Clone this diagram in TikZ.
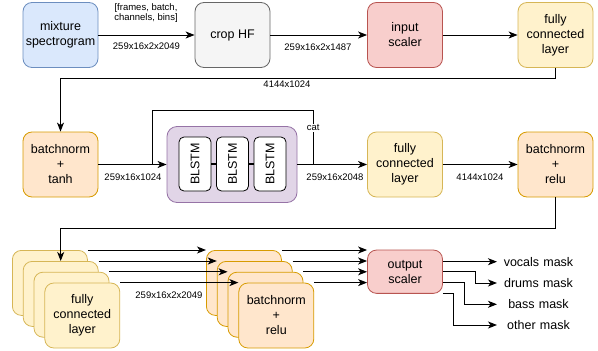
\documentclass[tikz,border=0pt]{standalone}
\usepackage{fontspec}
\setmainfont{Liberation Sans}
\usepackage{xcolor}
\usepackage{tikz}
\usetikzlibrary{arrows.meta,calc}

\definecolor{bluefill}{HTML}{DAE8FC}\definecolor{bluedraw}{HTML}{6C8EBF}
\definecolor{grayfill}{HTML}{F5F5F5}\definecolor{graydraw}{HTML}{666666}
\definecolor{redfill}{HTML}{F8CECC}\definecolor{reddraw}{HTML}{B85450}
\definecolor{yelfill}{HTML}{FFF2CC}\definecolor{yeldraw}{HTML}{D6B656}
\definecolor{orfill}{HTML}{FFE6CC}\definecolor{ordraw}{HTML}{D79B00}
\definecolor{purfill}{HTML}{E1D5E7}\definecolor{purdraw}{HTML}{9673A6}

\tikzset{
  block/.style={draw, rounded corners=9pt, line width=0.8pt, minimum width=75pt,
    minimum height=65pt, inner sep=0pt, align=center,
    font=\fontsize{12.5}{15}\selectfont},
  bluebox/.style={block, fill=bluefill, draw=bluedraw},
  graybox/.style={block, fill=grayfill, draw=graydraw},
  redbox/.style={block, fill=redfill, draw=reddraw},
  fcbox/.style={block, fill=yelfill, draw=yeldraw},
  bnbox/.style={block, fill=orfill, draw=ordraw},
  lstm/.style={draw, fill=white, rounded corners=5pt, line width=0.8pt,
    minimum width=32pt, minimum height=54pt, inner sep=0pt,
    font=\fontsize{12.5}{15}\selectfont},
  lbl/.style={font=\fontsize{9.5}{10.6}\selectfont, inner sep=1pt, align=center},
  mask/.style={font=\fontsize{12.5}{15}\selectfont, text width=80pt, align=center, inner sep=1pt},
}

\begin{document}
\begin{tikzpicture}[x=1pt,y=-1pt,line width=1pt,>={Stealth[length=9pt,width=7pt,inset=2.5pt]}]
  \useasboundingbox (0,0) rectangle (598,351);

  % first row
  \node[bluebox] (mix) at (60.5,35) {mixture\\spectrogram};
  \node[graybox] (crop) at (232.5,35) {crop HF};
  \node[redbox] (insc) at (405,35) {input\\scaler};
  \node[fcbox] (fc1) at (555.5,35) {fully\\connected\\layer};
  \draw[->] (mix) -- (crop);
  \draw[->] (crop) -- (insc);
  \draw[->] (insc) -- (fc1);
  \node[lbl] (dims) at (146,13) {[frames, batch,\\channels, bins]};
  \node[lbl] (s1) at (146.5,46.7) {259x16x2x2049};
  \node[lbl] (s2) at (318,47) {259x16x2x1487};

  % second row
  \node[bnbox] (bnt) at (60.5,164.5) {batchnorm\\+\\tanh};
  \node[draw=purdraw, fill=purfill, rounded corners=10pt, line width=0.8pt,
    minimum width=130pt, minimum height=76pt] (lstms) at (232,164.5) {};
  \node[lstm] (bl1) at (195,164) {\rotatebox{90}{BLSTM}};
  \node[lstm] (bl2) at (232.5,164) {\rotatebox{90}{BLSTM}};
  \node[lstm] (bl3) at (270,164) {\rotatebox{90}{BLSTM}};
  \draw[line width=1.5pt] (bl1) -- (bl2);
  \draw[line width=1.5pt] (bl2) -- (bl3);
  \node[fcbox] (fc2) at (405,164.5) {fully\\connected\\layer};
  \node[bnbox] (bnr) at (555.5,164.5) {batchnorm\\+\\relu};
  \draw[->] (fc1.south) -- ++(0,10.7) -| (bnt.north);
  \node[lbl] (s3) at (287,84.5) {4144x1024};
  \draw[->] (bnt) -- (lstms);
  \draw[->] (lstms) -- (fc2);
  \draw[->] (fc2) -- (bnr);
  \coordinate (split) at (152,164.5);
  \coordinate (merge) at (313.3,164.5);
  \draw (split) -- ++(0,-54.5) -| (merge);
  \node[lbl, fill=white] (cat) at (313.3,127.7) {cat};
  \node[lbl] (s4) at (133,177) {259x16x1024};
  \node[lbl] (s5) at (335,177) {259x16x2048};
  \node[lbl] (s6) at (480,177) {4144x1024};

  % third row
  \node[fcbox, anchor=north west] (fcs1) at (12,250) {};
  \node[fcbox, anchor=north west] (fcs2) at (22.8,261) {};
  \node[fcbox, anchor=north west] (fcs3) at (33.6,271.8) {};
  \node[fcbox, anchor=north west] (fcs4) at (44.4,282.6) {fully\\connected\\layer};
  \node[bnbox, anchor=north west] (bns1) at (206,250) {};
  \node[bnbox, anchor=north west] (bns2) at (216.8,261) {};
  \node[bnbox, anchor=north west] (bns3) at (227.6,271.8) {};
  \node[bnbox, anchor=north west] (bns4) at (238.4,282.6) {batchnorm\\+\\relu};
  \node[redbox, minimum height=43.3pt] (os) at (405,271.7) {output\\scaler};
  \draw[->] (bnr.south) -- ++(0,31.3) -| (fcs2.north);
  \draw[->] (fcs1.north east) -- (bns1.north west);
  \draw[->] (fcs2.north east) -- (bns2.north west);
  \draw[->] (fcs3.north east) -- (bns3.north west);
  \draw[->] (fcs4.north east) -- (bns4.north west);
  \draw[->] (bns1.north east) -- (bns1.north east -| os.west);
  \draw[->] (bns2.north east) -- (bns2.north east -| os.west);
  \draw[->] (bns3.north east) -- (bns3.north east -| os.west);
  \draw[->] (bns4.north east) -- (bns4.north east -| os.west);
  \node[lbl] (s7) at (169,295) {259x16x2x2049};

  % outputs
  \node[mask] (voc) at (538.5,262) {vocals mask};
  \node[mask] (drm) at (538.5,283) {drums mask};
  \node[mask] (bas) at (538.5,304.3) {bass mask};
  \node[mask] (oth) at (538.5,325) {other mask};
  \draw[->] ($(os.east)+(0,-10)$) -- (voc.west |- 0,261.7);
  \draw[->] (os.east) -- ++(32.5,0) |- (drm.west);
  \draw[->] ($(os.east)+(0,11)$) -- ++(21.5,0) |- (bas.west);
  \draw[->] (os.south east) -- ++(10.8,0) |- (oth.west);
\end{tikzpicture}
\end{document}
